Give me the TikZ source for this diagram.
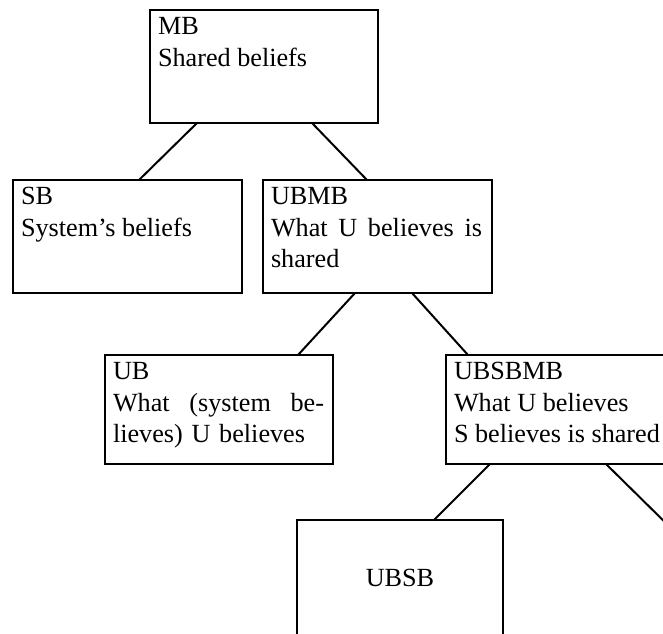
\documentclass[tikz,border=0pt]{standalone}
\usepackage{fontspec}
\setmainfont{Liberation Serif}
\usetikzlibrary{calc}
\begin{document}
\begin{tikzpicture}[x=1pt,y=-1pt,
  box/.style={draw,line width=2.6pt,inner sep=0pt,outer sep=0pt,anchor=north west},
  lbl/.style={inner sep=0pt,outer sep=0pt,anchor=north west,align=left,
    font=\fontsize{26.2}{31.5}\selectfont},
  link/.style={line width=2pt}]
  \useasboundingbox (0,0) rectangle (663,633);
  \clip (0,0) rectangle (663,633);

  % belief boxes
  \node[box,minimum width=228pt,minimum height=113pt] (MB) at (150,10) {};
  \node[box,minimum width=229pt,minimum height=113pt] (SB) at (13,180) {};
  \node[box,minimum width=229pt,minimum height=113pt] (UBMB) at (263,180) {};
  \node[box,minimum width=228pt,minimum height=109pt] (UB) at (105,355) {};
  \node[box,minimum width=240pt,minimum height=109pt] (UBSBMB) at (446,355) {};
  \node[box,minimum width=206pt,minimum height=125pt] (UBSB) at (297,520) {};

  % box texts
  \node[lbl] (MBt) at ([shift={(8pt,-7.5pt)}]MB.north west) {MB\\Shared beliefs};
  \node[lbl] (SBt) at ([shift={(8pt,-7.5pt)}]SB.north west) {SB\\System’s beliefs};
  \node[lbl,text width=211pt] (UBMBt) at ([shift={(8pt,-7.5pt)}]UBMB.north west)
    {UBMB\\What\hfill U\hfill believes\hfill is\\shared};
  \node[lbl,text width=211pt] (UBt) at ([shift={(8pt,-7.5pt)}]UB.north west)
    {UB\\What\hfill (system\hfill be-\\lieves) U believes};
  \node[lbl] (UBSBMBt) at ([shift={(8pt,-7.5pt)}]UBSBMB.north west)
    {UBSBMB\\What U believes\\S believes is shared};
  \node[inner sep=0pt,anchor=base,font=\fontsize{26.2}{31.5}\selectfont] (UBSBt)
    at (400,586) {UBSB};

  % tree links
  \coordinate (hidden) at (676,533);
  \draw[link] ([xshift=47pt]MB.south west) -- ([xshift=126pt]SB.north west);
  \draw[link] ([xshift=162pt]MB.south west) -- ([xshift=104pt]UBMB.north west);
  \draw[link] ([xshift=92pt]UBMB.south west) -- ([xshift=193pt]UB.north west);
  \draw[link] ([xshift=149pt]UBMB.south west) -- ([xshift=22pt]UBSBMB.north west);
  \draw[link] ([xshift=44pt]UBSBMB.south west) -- ([xshift=137pt]UBSB.north west);
  \draw[link] ([xshift=160pt]UBSBMB.south west) -- (hidden);
\end{tikzpicture}
\end{document}
